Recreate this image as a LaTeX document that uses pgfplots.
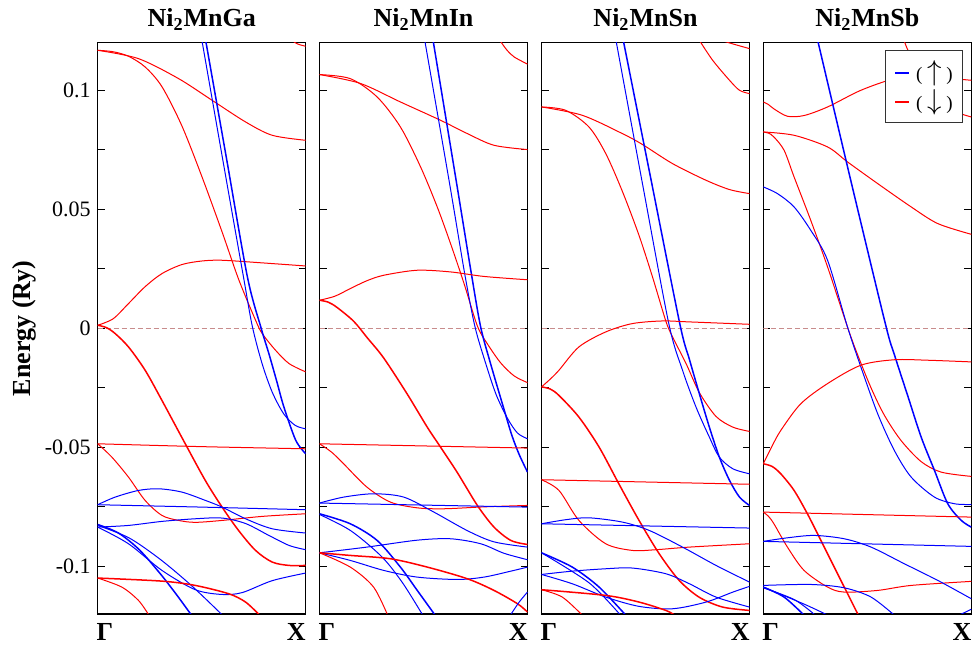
\documentclass[border=0pt]{standalone}
\usepackage{fontspec}
\setmainfont{Liberation Serif}
\usepackage{pgfplots}
\pgfplotsset{compat=1.18}

\definecolor{spinup}{RGB}{0,0,255}
\definecolor{spindn}{RGB}{255,0,0}
\definecolor{efermi}{RGB}{200,140,140}

\pgfplotsset{
  panel/.style={
    scale only axis, width=104pt, height=285.65pt, anchor=south west,
    xmin=0, xmax=1, ymin=-0.12, ymax=0.12,
    axis line style={line width=0.75pt},
    xtick={0.035,0.955}, xticklabels={Γ,X},
    x tick style={draw=none},
    xticklabel style={font=\bfseries\fontsize{13}{15}\selectfont, anchor=north, yshift=-1.2pt},
    ytick={-0.1,-0.05,0,0.05,0.1},
    minor ytick={-0.075,-0.025,0.025,0.075},
    yticklabels=\empty,
    yticklabel style={font=\fontsize{11}{13}\selectfont},
    tick align=inside, ytick pos=both, xtick pos=bottom,
    major tick length=3.5pt, minor tick length=3.5pt,
    every tick/.style={black, line width=0.6pt},
    title style={font=\bfseries\fontsize{13}{15}\selectfont, at={(0.5,1)}, anchor=base, yshift=1.9pt},
    clip=true,
  },
  up/.style={spinup, line width=0.5pt, smooth},
  upb/.style={spinup, line width=0.75pt, smooth},
  dn/.style={spindn, line width=0.5pt, smooth},
  dnb/.style={spindn, line width=0.75pt, smooth},
  ef/.style={efermi, line width=0.5pt, dash pattern=on 2.5pt off 1.5pt},
}

\begin{document}
\begin{tikzpicture}
\useasboundingbox (0,0) rectangle (488pt,325.5pt);

% ---------------- Ni2MnGa ----------------
\begin{axis}[panel, at={(48.85pt,18.5pt)},
  title={Ni\textsubscript{2}MnGa},
  yticklabels={-0.1,-0.05,0,0.05,0.1},
  ylabel={Energy (Ry)},
  ylabel style={font=\bfseries\fontsize{13}{15}\selectfont, at={(axis description cs:-0.354,0.5)}, anchor=center}]
\addplot[ef] coordinates {(0,0) (1,0)};
\addplot[dn] coordinates {(0,0.1168) (0.196,0.1133) (0.389,0.1049) (0.550,0.0958) (0.711,0.0867) (0.839,0.0811) (1,0.0790)};
\addplot[dn] coordinates {(0,0.1168) (0.074,0.1162) (0.148,0.1143) (0.228,0.1098) (0.309,0.1015) (0.405,0.0850) (0.502,0.0635) (0.598,0.0405) (0.678,0.0205) (0.759,0.0034) (0.791,-0.0022) (0.855,-0.0092) (0.920,-0.0148) (1,-0.0183)};
\addplot[dn] coordinates {(0,0.0013) (0.074,0.0040) (0.148,0.0104) (0.228,0.0175) (0.309,0.0230) (0.405,0.0268) (0.502,0.0283) (0.598,0.0286) (0.791,0.0275) (1,0.0262)};
\addplot[dnb] coordinates {(0,0.0013) (0.042,0.0003) (0.084,-0.0022) (0.148,-0.0078) (0.228,-0.0176) (0.309,-0.0303) (0.421,-0.0485) (0.518,-0.0640) (0.598,-0.0751) (0.678,-0.0850) (0.759,-0.0933) (0.839,-0.0982) (0.920,-0.0996) (1,-0.0996)};
\addplot[up] coordinates {(0.500,0.1215) (0.600,0.0715) (0.700,0.0220) (0.743,0.0010) (0.791,-0.0150) (0.840,-0.0270) (0.895,-0.0360) (0.950,-0.0408) (1,-0.0422)};
\addplot[upb] coordinates {(0.518,0.1215) (0.620,0.0710) (0.720,0.0215) (0.786,0) (0.823,-0.0106) (0.860,-0.0220) (0.895,-0.0330) (0.952,-0.0470) (1,-0.0527)};
\addplot[dn] coordinates {(0.925,0.1215) (0.960,0.1195) (1,0.1185)};
\addplot[dn] coordinates {(0,-0.0485) (0.5,-0.0497) (1,-0.0506)};
\addplot[dn] coordinates {(0,-0.0485) (0.068,-0.0541) (0.148,-0.0625) (0.228,-0.0723) (0.309,-0.0786) (0.389,-0.0807) (0.469,-0.0815) (0.598,-0.0807) (0.791,-0.0790) (1,-0.0779)};
\addplot[up] coordinates {(0,-0.0741) (0.5,-0.0751) (1,-0.0762)};
\addplot[up] coordinates {(0,-0.0741) (0.084,-0.0709) (0.196,-0.0681) (0.293,-0.0674) (0.405,-0.0688) (0.518,-0.0723) (0.598,-0.0751) (0.711,-0.0800) (0.839,-0.0842) (1,-0.0860)};
\addplot[up] coordinates {(0,-0.0835) (0.148,-0.0828) (0.309,-0.0811) (0.469,-0.0800) (0.598,-0.0797) (0.711,-0.0820) (0.823,-0.0870) (0.920,-0.0912) (1,-0.0930)};
\addplot[upb] coordinates {(0,-0.0824) (0.100,-0.0860) (0.200,-0.0930) (0.300,-0.1030) (0.380,-0.1120) (0.455,-0.1210)};
\addplot[up] coordinates {(0,-0.0828) (0.150,-0.0880) (0.300,-0.0970) (0.450,-0.1080) (0.600,-0.1205)};
\addplot[up] coordinates {(0,-0.0835) (0.148,-0.0905) (0.309,-0.1017) (0.469,-0.1098) (0.598,-0.1118) (0.695,-0.1110) (0.839,-0.1060) (1,-0.1028)};
\addplot[dnb] coordinates {(0,-0.1049) (0.309,-0.1062) (0.469,-0.1080) (0.630,-0.1115) (0.711,-0.1150) (0.775,-0.1202)};
\addplot[dn] coordinates {(0,-0.1049) (0.116,-0.1087) (0.196,-0.1143) (0.244,-0.1202)};
\end{axis}

% ---------------- Ni2MnIn ----------------
\begin{axis}[panel, at={(159.75pt,18.5pt)}, title={Ni\textsubscript{2}MnIn}]
\addplot[ef] coordinates {(0,0) (1,0)};
\addplot[dn] coordinates {(0,0.1066) (0.196,0.1029) (0.389,0.0951) (0.582,0.0874) (0.711,0.0818) (0.839,0.0769) (1,0.0751)};
\addplot[dn] coordinates {(0,0.1066) (0.148,0.1049) (0.277,0.0972) (0.389,0.0846) (0.486,0.0678) (0.566,0.0510) (0.630,0.0356) (0.695,0.0188) (0.759,0.0010) (0.807,-0.0065) (0.871,-0.0145) (0.936,-0.0200) (1,-0.0228)};
\addplot[up] coordinates {(0.505,0.1215) (0.626,0.0605) (0.700,0.0220) (0.748,0.0005) (0.800,-0.0150) (0.850,-0.0280) (0.905,-0.0380) (0.952,-0.0440) (1,-0.0464)};
\addplot[upb] coordinates {(0.545,0.1215) (0.660,0.0605) (0.730,0.0230) (0.775,0.0005) (0.823,-0.0150) (0.887,-0.0340) (0.925,-0.0450) (0.960,-0.0530) (1,-0.0604)};
\addplot[dn] coordinates {(0.863,0.1215) (0.900,0.1170) (0.936,0.1140) (1,0.1110)};
\addplot[dn] coordinates {(0,0.0118) (0.074,0.0135) (0.148,0.0167) (0.228,0.0200) (0.309,0.0223) (0.469,0.0244) (0.630,0.0237) (0.791,0.0218) (1,0.0204)};
\addplot[dnb] coordinates {(0,0.0118) (0.042,0.0110) (0.084,0.0088) (0.164,0.0030) (0.230,-0.0040) (0.309,-0.0125) (0.421,-0.0275) (0.518,-0.0415) (0.582,-0.0499) (0.662,-0.0605) (0.759,-0.0744) (0.839,-0.0835) (0.920,-0.0891) (1,-0.0908)};
\addplot[dn] coordinates {(0,-0.0485) (1,-0.0503)};
\addplot[dn] coordinates {(0,-0.0485) (0.058,-0.0520) (0.116,-0.0569) (0.228,-0.0667) (0.341,-0.0730) (0.469,-0.0754) (0.598,-0.0758) (0.791,-0.0750) (1,-0.0744)};
\addplot[up] coordinates {(0,-0.0734) (1,-0.0751)};
\addplot[up] coordinates {(0,-0.0734) (0.116,-0.0709) (0.260,-0.0695) (0.405,-0.0709) (0.550,-0.0772) (0.711,-0.0850) (0.839,-0.0897) (1,-0.0919)};
\addplot[up] coordinates {(0,-0.0943) (0.228,-0.0919) (0.469,-0.0890) (0.630,-0.0884) (0.775,-0.0905) (0.887,-0.0945) (1,-0.0972)};
\addplot[upb] coordinates {(0,-0.0779) (0.148,-0.0821) (0.277,-0.0891) (0.389,-0.1003) (0.470,-0.1101) (0.560,-0.1210)};
\addplot[up] coordinates {(0,-0.0782) (0.150,-0.0850) (0.300,-0.0960) (0.400,-0.1070) (0.500,-0.1210)};
\addplot[up] coordinates {(0,-0.0943) (0.148,-0.0975) (0.309,-0.1017) (0.469,-0.1045) (0.662,-0.1055) (0.791,-0.1045) (0.920,-0.1020) (1,-0.1003)};
\addplot[dnb] coordinates {(0,-0.0943) (0.148,-0.0954) (0.341,-0.0968) (0.518,-0.1003) (0.711,-0.1052) (0.839,-0.1101) (0.952,-0.1157) (1,-0.1192)};
\addplot[dn] coordinates {(0,-0.0943) (0.148,-0.1003) (0.260,-0.1087) (0.330,-0.1210)};
\addplot[up] coordinates {(0.910,-0.1215) (0.960,-0.1150) (1,-0.1108)};
\end{axis}

% ---------------- Ni2MnSn ----------------
\begin{axis}[panel, at={(270.75pt,18.5pt)}, title={Ni\textsubscript{2}MnSn}]
\addplot[ef] coordinates {(0,0) (1,0)};
\addplot[dn] coordinates {(0,0.0930) (0.196,0.0895) (0.389,0.0818) (0.486,0.0772) (0.630,0.0692) (0.791,0.0622) (0.904,0.0583) (1,0.0566)};
\addplot[dn] coordinates {(0,0.0930) (0.116,0.0916) (0.228,0.0846) (0.309,0.0734) (0.389,0.0575) (0.469,0.0390) (0.534,0.0215) (0.598,0.0030) (0.630,-0.0036) (0.695,-0.0148) (0.759,-0.0270) (0.839,-0.0370) (0.920,-0.0415) (1,-0.0433)};
\addplot[up] coordinates {(0.357,0.1215) (0.486,0.0605) (0.612,0.0020) (0.678,-0.0176) (0.743,-0.0331) (0.807,-0.0457) (0.855,-0.0541) (0.920,-0.0590) (1,-0.0611)};
\addplot[upb] coordinates {(0.392,0.1215) (0.531,0.0605) (0.666,0.0015) (0.711,-0.0130) (0.759,-0.0275) (0.807,-0.0415) (0.855,-0.0541) (0.904,-0.0639) (0.952,-0.0709) (1,-0.0744)};
\addplot[dn] coordinates {(0.745,0.1230) (0.759,0.1210) (0.823,0.1126) (0.904,0.1042) (0.952,0.1000) (1,0.0986)};
\addplot[dn] coordinates {(0.850,0.1215) (0.900,0.1200) (1,0.1175)};
\addplot[dn] coordinates {(0,-0.0246) (0.040,-0.0215) (0.084,-0.0176) (0.180,-0.0078) (0.309,-0.0015) (0.437,0.0020) (0.582,0.0031) (0.711,0.0027) (1,0.0017)};
\addplot[dnb] coordinates {(0,-0.0246) (0.042,-0.0255) (0.084,-0.0282) (0.180,-0.0373) (0.277,-0.0499) (0.373,-0.0655) (0.469,-0.0807) (0.566,-0.0947) (0.662,-0.1059) (0.759,-0.1130) (0.871,-0.1171) (1,-0.1185)};
\addplot[dn] coordinates {(0,-0.0636) (1,-0.0655)};
\addplot[dn] coordinates {(0,-0.0636) (0.084,-0.0681) (0.180,-0.0807) (0.309,-0.0905) (0.437,-0.0933) (0.550,-0.0930) (0.711,-0.0919) (1,-0.0905)};
\addplot[up] coordinates {(0,-0.0821) (1,-0.0839)};
\addplot[up] coordinates {(0,-0.0821) (0.116,-0.0804) (0.228,-0.0796) (0.389,-0.0814) (0.518,-0.0849) (0.678,-0.0919) (0.839,-0.0996) (1,-0.1066)};
\addplot[upb] coordinates {(0,-0.0943) (0.148,-0.1003) (0.277,-0.1087) (0.405,-0.1205)};
\addplot[up] coordinates {(0,-0.0943) (0.230,-0.1070) (0.380,-0.1205)};
\addplot[up] coordinates {(0,-0.1034) (0.148,-0.1020) (0.309,-0.1010) (0.437,-0.1007) (0.598,-0.1031) (0.711,-0.1073) (0.839,-0.1129) (1,-0.1171)};
\addplot[up] coordinates {(0,-0.1034) (0.148,-0.1073) (0.309,-0.1129) (0.469,-0.1168) (0.630,-0.1178) (0.791,-0.1150) (0.920,-0.1108) (1,-0.1084)};
\addplot[dnb] coordinates {(0,-0.1098) (0.309,-0.1122) (0.469,-0.1150) (0.598,-0.1185) (0.640,-0.1205)};
\addplot[dn] coordinates {(0,-0.1098) (0.100,-0.1129) (0.196,-0.1205)};
\end{axis}

% ---------------- Ni2MnSb ----------------
\begin{axis}[panel, at={(381.65pt,18.5pt)}, title={Ni\textsubscript{2}MnSb},
  legend style={at={(0.962,0.988)}, anchor=north east, draw=black!80, line width=0.6pt,
    fill=white, font=\fontsize{9.5}{11}\selectfont, row sep=0pt, inner sep=3.5pt,
    nodes={inner sep=1.5pt}},
  legend cell align=left,
  legend image code/.code={}]
\addlegendimage{empty legend}
\addlegendentry{\textcolor{spinup}{\rule[3.2pt]{7pt}{0.8pt}}\hspace{3.5pt}\rule[-3pt]{0pt}{13pt}(\ {\fontsize{14}{14}\selectfont$\uparrow$}\ )}
\addlegendimage{empty legend}
\addlegendentry{\textcolor{spindn}{\rule[3.2pt]{7pt}{0.8pt}}\hspace{3.5pt}\rule[-3pt]{0pt}{13pt}(\ {\fontsize{14}{14}\selectfont$\downarrow$}\ )}
\addplot[ef] coordinates {(0,0) (1,0)};
\addplot[dn] coordinates {(0,0.0951) (0.025,0.0940) (0.051,0.0922) (0.116,0.0891) (0.196,0.0894) (0.309,0.0930) (0.469,0.1000) (0.630,0.1049) (0.760,0.1063) (0.880,0.1052) (1,0.1042)};
\addplot[dn] coordinates {(0.675,0.1215) (0.700,0.1160) (0.800,0.1000) (0.900,0.0920) (1,0.0888)};
\addplot[dn] coordinates {(0,0.0825) (0.148,0.0811) (0.309,0.0762) (0.405,0.0699) (0.550,0.0608) (0.711,0.0510) (0.839,0.0440) (1,0.0395)};
\addplot[dn] coordinates {(0,0.0825) (0.025,0.0820) (0.051,0.0804) (0.100,0.0748) (0.148,0.0636) (0.228,0.0454) (0.309,0.0258) (0.405,0.0005) (0.453,-0.0110) (0.518,-0.0250) (0.582,-0.0365) (0.662,-0.0471) (0.759,-0.0560) (0.855,-0.0604) (1,-0.0622)};
\addplot[up] coordinates {(0,0.0594) (0.068,0.0566) (0.148,0.0510) (0.228,0.0412) (0.309,0.0286) (0.405,0.0005) (0.469,-0.0162) (0.550,-0.0359) (0.630,-0.0513) (0.711,-0.0625) (0.823,-0.0709) (0.920,-0.0737) (1,-0.0740)};
\addplot[upb] coordinates {(0.260,0.1215) (0.425,0.0605) (0.588,0.0015) (0.630,-0.0110) (0.695,-0.0285) (0.759,-0.0457) (0.823,-0.0597) (0.887,-0.0737) (0.952,-0.0807) (1,-0.0835)};
\addplot[dn] coordinates {(0,-0.0569) (0.042,-0.0495) (0.084,-0.0429) (0.180,-0.0317) (0.309,-0.0232) (0.469,-0.0155) (0.630,-0.0132) (0.791,-0.0134) (1,-0.0141)};
\addplot[dnb] coordinates {(0,-0.0569) (0.042,-0.0580) (0.084,-0.0611) (0.148,-0.0681) (0.212,-0.0779) (0.277,-0.0891) (0.357,-0.1031) (0.460,-0.1210)};
\addplot[dn] coordinates {(0,-0.0772) (1,-0.0793)};
\addplot[dn] coordinates {(0,-0.0772) (0.025,-0.0790) (0.051,-0.0821) (0.116,-0.0919) (0.196,-0.1017) (0.309,-0.1087) (0.389,-0.1108) (0.550,-0.1101) (0.711,-0.1080) (1,-0.1063)};
\addplot[up] coordinates {(0,-0.0895) (1,-0.0916)};
\addplot[up] coordinates {(0,-0.0895) (0.116,-0.0880) (0.244,-0.0870) (0.389,-0.0884) (0.518,-0.0919) (0.678,-0.0989) (0.839,-0.1059) (1,-0.1136)};
\addplot[up] coordinates {(0,-0.1080) (0.228,-0.1076) (0.389,-0.1090) (0.518,-0.1129) (0.630,-0.1205)};
\addplot[upb] coordinates {(0,-0.1087) (0.100,-0.1129) (0.196,-0.1205)};
\addplot[up] coordinates {(0,-0.1090) (0.150,-0.1140) (0.250,-0.1205)};
\addplot[up] coordinates {(0,-0.1087) (0.200,-0.1160) (0.310,-0.1205)};
\addplot[up] coordinates {(0.930,-0.1210) (1,-0.1180)};
\end{axis}
\end{tikzpicture}
\end{document}
